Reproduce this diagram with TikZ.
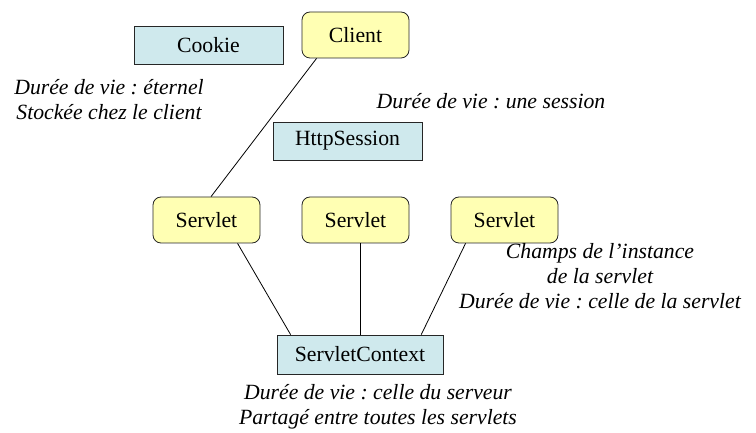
\documentclass[tikz,border=0pt]{standalone}
\usepackage{fontspec}
\setmainfont{Liberation Serif}
\usetikzlibrary{positioning}
\definecolor{boxblue}{RGB}{207,233,237}
\definecolor{boxyellow}{RGB}{255,255,179}
\frenchspacing

\begin{document}
\begin{tikzpicture}[x=1bp, y=-1bp,
        store/.style={draw=black!85, fill=boxblue, line width=0.8bp,
          minimum height=38bp, inner sep=0pt, font=\fontsize{21.8}{25}\selectfont},
        actor/.style={draw=black!85, fill=boxyellow, rounded corners=8bp, line width=0.8bp,
          minimum width=107bp, minimum height=46bp, inner sep=0pt, font=\fontsize{21.8}{25}\selectfont},
        note/.style={align=center, inner sep=0pt, font=\fontsize{21.8}{25}\selectfont\itshape},
        edge_style/.style={draw=black, line width=0.8bp}]
  \useasboundingbox (0,0) rectangle (756,433);

  % boxes
  \node[store, minimum width=149bp] (cookie) at (208.5,45.5) {Cookie};
  \node[actor] (client) at (355.5,35) {Client};
  \node[store, minimum width=149bp] (session) at (347.5,141) {HttpSession};
  \node[actor] (s1) at (206.5,220) {Servlet};
  \node[actor] (s2) at (355.5,220) {Servlet};
  \node[actor] (s3) at (504.5,220) {Servlet};
  \node[store, minimum width=166bp, minimum height=39bp] (ctx) at (360,354.5) {ServletContext};

  % notes
  \node[note] (cookie_note) at (109,100) {Durée de vie : éternel\\Stockée chez le client};
  \node[note] (session_note) at (491,101) {Durée de vie : une session};
  \node[note] (servlet_note) at (600,276) {Champs de l’instance\\de la servlet\\Durée de vie : celle de la servlet};
  \node[note] (ctx_note) at (378,406.5) {Durée de vie : celle du serveur\\Partagé entre toutes les servlets};

  % links
  \draw[edge_style] (client.211) to (s1.79);
  \draw[edge_style] (s1.-37) to (ctx.164);
  \draw[edge_style] (ctx.north |- s2.south) to (ctx.north);
  \draw[edge_style] (s3.211.5) to (ctx.18);
\end{tikzpicture}
\end{document}
